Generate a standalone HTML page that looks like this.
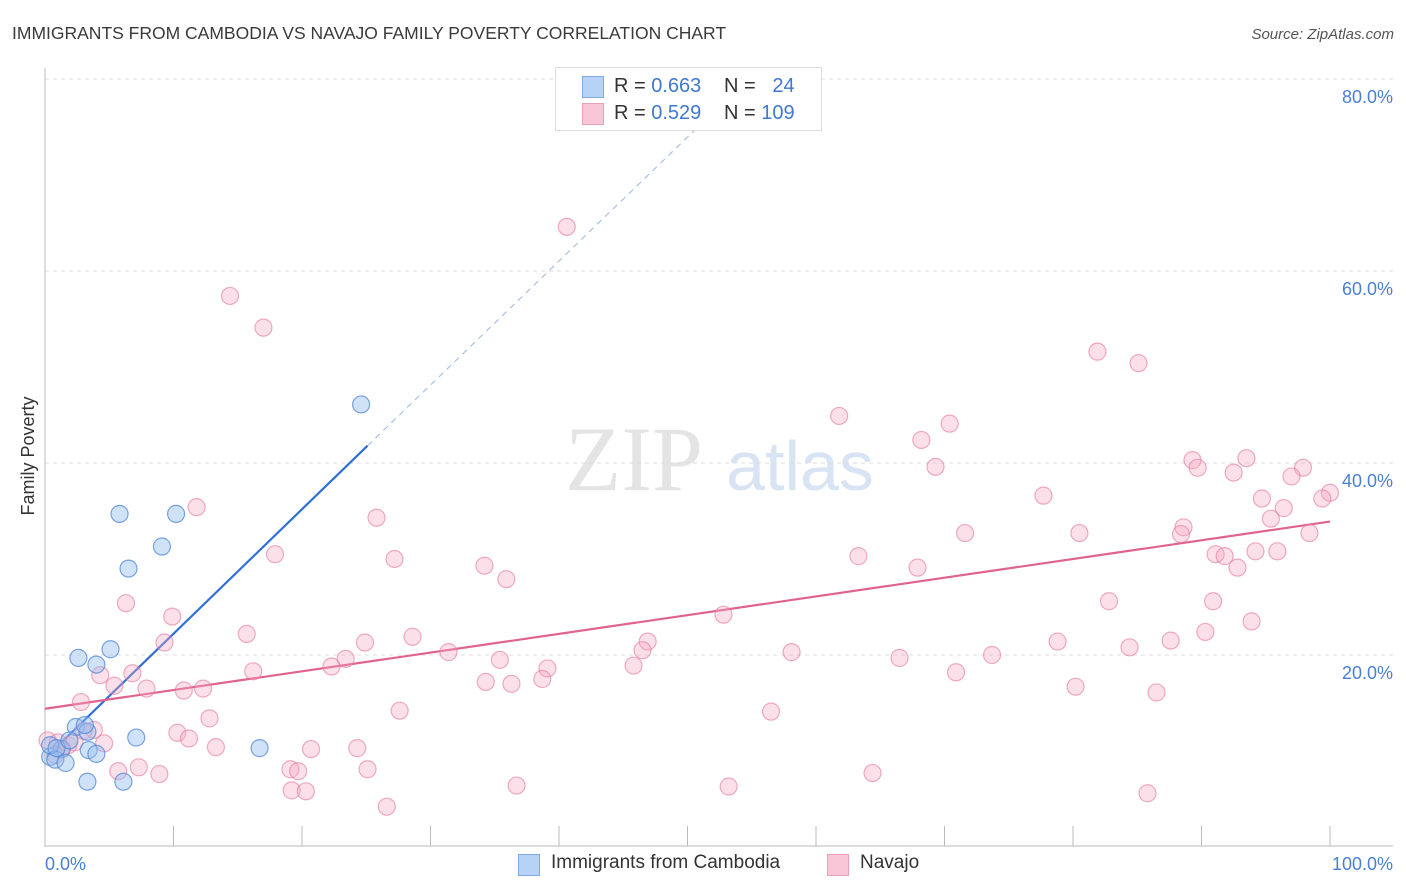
<!DOCTYPE html>
<html><head><meta charset="utf-8"><style>
body{margin:0;background:#fff;font-family:"Liberation Sans",sans-serif;}
#wrap{position:relative;width:1406px;height:892px;overflow:hidden;}
</style></head><body>
<div id="wrap">
<svg id="svg" width="1406" height="892" xmlns="http://www.w3.org/2000/svg" font-family="Liberation Sans, sans-serif">
<text x="12" y="39" font-size="17.5" fill="#3a3a3a">IMMIGRANTS FROM CAMBODIA VS NAVAJO FAMILY POVERTY CORRELATION CHART</text>
<text x="1394" y="39" font-size="15" fill="#555" font-style="italic" text-anchor="end">Source: ZipAtlas.com</text>
<text x="34" y="456" font-size="18" fill="#333" transform="rotate(-90 34 456)" text-anchor="middle">Family Poverty</text>
<g><text x="634" y="490" font-size="92" fill="#e4e4e4" font-family="Liberation Serif, serif" text-anchor="middle">ZIP</text><text x="800" y="490" font-size="70" fill="#d8e4f4" text-anchor="middle">atlas</text></g>
<g id="grid"></g><g id="axes"></g><g id="trend"></g><g id="pts"></g>
</svg>
<div style="position:absolute;left:555px;top:67px;width:265px;height:62px;background:#fff;border:1px solid #ddd;font-size:20px;color:#333;">
 <div style="position:absolute;left:26px;top:8px;width:20px;height:20px;background:#b8d2f6;border:1px solid #7fa8e6;"></div>
 <div style="position:absolute;left:58px;top:7px;">R = <span style="color:#3f78d0">0.663</span></div>
 <div style="position:absolute;left:168px;top:7px;">N = <span style="color:#3f78d0">&nbsp;&nbsp;24</span></div>
 <div style="position:absolute;left:26px;top:35px;width:20px;height:20px;background:#f8c6d6;border:1px solid #eaa0b8;"></div>
 <div style="position:absolute;left:58px;top:34px;">R = <span style="color:#3f78d0">0.529</span></div>
 <div style="position:absolute;left:168px;top:34px;">N = <span style="color:#3f78d0">109</span></div>
</div>
<div style="position:absolute;left:518px;top:852px;font-size:19px;color:#333;">
 <div style="position:absolute;left:0;top:2px;width:20px;height:20px;background:#b8d2f6;border:1px solid #7fa8e6;"></div>
 <div style="position:absolute;left:33px;top:0;white-space:nowrap;">Immigrants from Cambodia</div>
 <div style="position:absolute;left:309px;top:2px;width:20px;height:20px;background:#f8c6d6;border:1px solid #eaa0b8;"></div>
 <div style="position:absolute;left:342px;top:0;">Navajo</div>
</div>
</div>
<script>
const yTicks=[20,40,60,80];
const yTickLabels=["20.0%","40.0%","60.0%","80.0%"];
const xEndLabels=["0.0%","100.0%"];
const blueX=[24.6,5.8,10.2,9.1,6.5,2.6,5.1,4.0,7.1,16.7,2.4,3.3,1.3,3.4,4.0,0.4,0.8,1.6,3.3,6.1,0.4,0.9,3.1,1.9];
const blueY=[46.1,34.7,34.7,31.3,29.0,19.7,20.6,19.0,11.4,10.3,12.5,12.0,10.2,10.1,9.7,9.4,9.1,8.75,6.8,6.8,10.6,10.3,12.7,11.1];
const pinkX=[40.6,14.4,17.0,81.9,85.1,61.8,70.4,68.2,69.3,93.5,89.3,89.7,97.9,92.5,97.0,100.0,99.4,77.7,94.7,96.4,11.8,25.8,95.4,88.6,88.4,71.6,80.5,98.4,17.9,63.3,94.2,95.9,91.1,91.8,27.2,34.2,92.8,67.9,35.9,6.3,82.8,90.9,9.9,93.9,52.8,15.7,28.6,90.3,9.3,46.9,24.9,78.8,87.6,84.4,31.4,46.5,58.1,73.7,23.4,35.4,66.5,22.3,45.8,39.1,16.2,6.8,70.9,4.3,34.3,38.7,36.3,80.2,86.5,5.4,7.9,10.8,12.3,2.8,27.6,56.5,12.8,10.3,3.8,3.0,11.2,4.6,1.8,13.3,20.7,24.3,0.2,1.0,7.3,5.7,8.9,19.1,19.7,25.1,64.4,19.2,20.3,36.7,53.2,26.6,85.8,1.2,2.3,0.8];
const pinkY=[64.6,57.4,54.1,51.6,50.4,44.9,44.1,42.4,39.6,40.5,40.3,39.5,39.5,39.0,38.6,36.9,36.3,36.6,36.3,35.3,35.4,34.3,34.2,33.3,32.6,32.7,32.7,32.7,30.5,30.3,30.8,30.8,30.5,30.3,30.0,29.3,29.1,29.1,27.9,25.4,25.6,25.6,24.0,23.5,24.2,22.2,21.9,22.4,21.3,21.4,21.3,21.4,21.5,20.8,20.3,20.5,20.3,20.0,19.6,19.5,19.7,18.8,18.9,18.6,18.3,18.1,18.2,17.9,17.2,17.5,17.0,16.7,16.1,16.8,16.5,16.3,16.5,15.1,14.2,14.1,13.4,11.9,12.2,12.1,11.3,10.8,10.6,10.4,10.2,10.3,11.1,10.9,8.3,7.9,7.6,8.1,7.9,8.1,7.7,5.9,5.8,6.4,6.3,4.2,5.6,10.1,10.9,9.6];
const blueTrendX=[0.2,25.1,55];
const blueTrendY=[9.5,41.8,80.4];
const pinkTrendX=[0,100];
const pinkTrendY=[14.4,33.9];
const NS="http://www.w3.org/2000/svg";
function sx(v){return 45+v*12.85;}
function sy(v){return 847-v*9.6;}
function mk(tag,attrs,parent){const e=document.createElementNS(NS,tag);for(const k in attrs)e.setAttribute(k,attrs[k]);parent.appendChild(e);return e;}
const grid=document.getElementById('grid'),axes=document.getElementById('axes'),trend=document.getElementById('trend'),pts=document.getElementById('pts');
yTicks.forEach((t,i)=>{
 const l=mk('line',{x1:45,x2:1393,y1:sy(t),y2:sy(t),stroke:'#dcdcdc','stroke-dasharray':'4,4'},grid);
 
 
 const tx=mk('text',{x:1393,y:sy(t)+24,'font-size':18,fill:'#4a7fd4','text-anchor':'end'},grid);
 tx.textContent=yTickLabels[i];
 
 
});
const ya=mk('line',{x1:45,x2:45,y1:68,y2:847,stroke:'#bbb'},axes);


const xa=mk('line',{x1:45,x2:1393,y1:846,y2:846,stroke:'#bbb'},axes);


for(let i=0;i<=10;i++){
 const t=mk('line',{x1:sx(i*10),x2:sx(i*10),y1:826,y2:846,stroke:'#bbb'},axes);
 
 
}
const xl0=mk('text',{x:45,y:870,'font-size':18,fill:'#4a7fd4'},axes);xl0.textContent=xEndLabels[0];


const xl1=mk('text',{x:1393,y:870,'font-size':18,fill:'#4a7fd4','text-anchor':'end'},axes);xl1.textContent=xEndLabels[1];


pinkX.forEach((x,i)=>{
 const c=mk('circle',{cx:sx(x),cy:sy(pinkY[i]),r:8.5,fill:'rgba(245,165,192,0.35)',stroke:'rgba(226,120,155,0.6)','stroke-width':1.2},pts);
 
 
});
blueX.forEach((x,i)=>{
 const c=mk('circle',{cx:sx(x),cy:sy(blueY[i]),r:8.5,fill:'rgba(150,190,240,0.45)',stroke:'rgba(80,135,215,0.75)','stroke-width':1.2},pts);
 
 
});
const bl=mk('line',{x1:sx(blueTrendX[0]),y1:sy(blueTrendY[0]),x2:sx(blueTrendX[1]),y2:sy(blueTrendY[1]),stroke:'#2f6fd6','stroke-width':2.2},trend);


const bd=mk('line',{x1:sx(blueTrendX[1]),y1:sy(blueTrendY[1]),x2:sx(blueTrendX[2]),y2:sy(blueTrendY[2]),stroke:'#9ab6e0','stroke-width':1,'stroke-dasharray':'6,5'},trend);


const pl=mk('line',{x1:sx(pinkTrendX[0]),y1:sy(pinkTrendY[0]),x2:sx(pinkTrendX[1]),y2:sy(pinkTrendY[1]),stroke:'#e0628e','stroke-width':2.2},trend);


</script>
</body></html>
